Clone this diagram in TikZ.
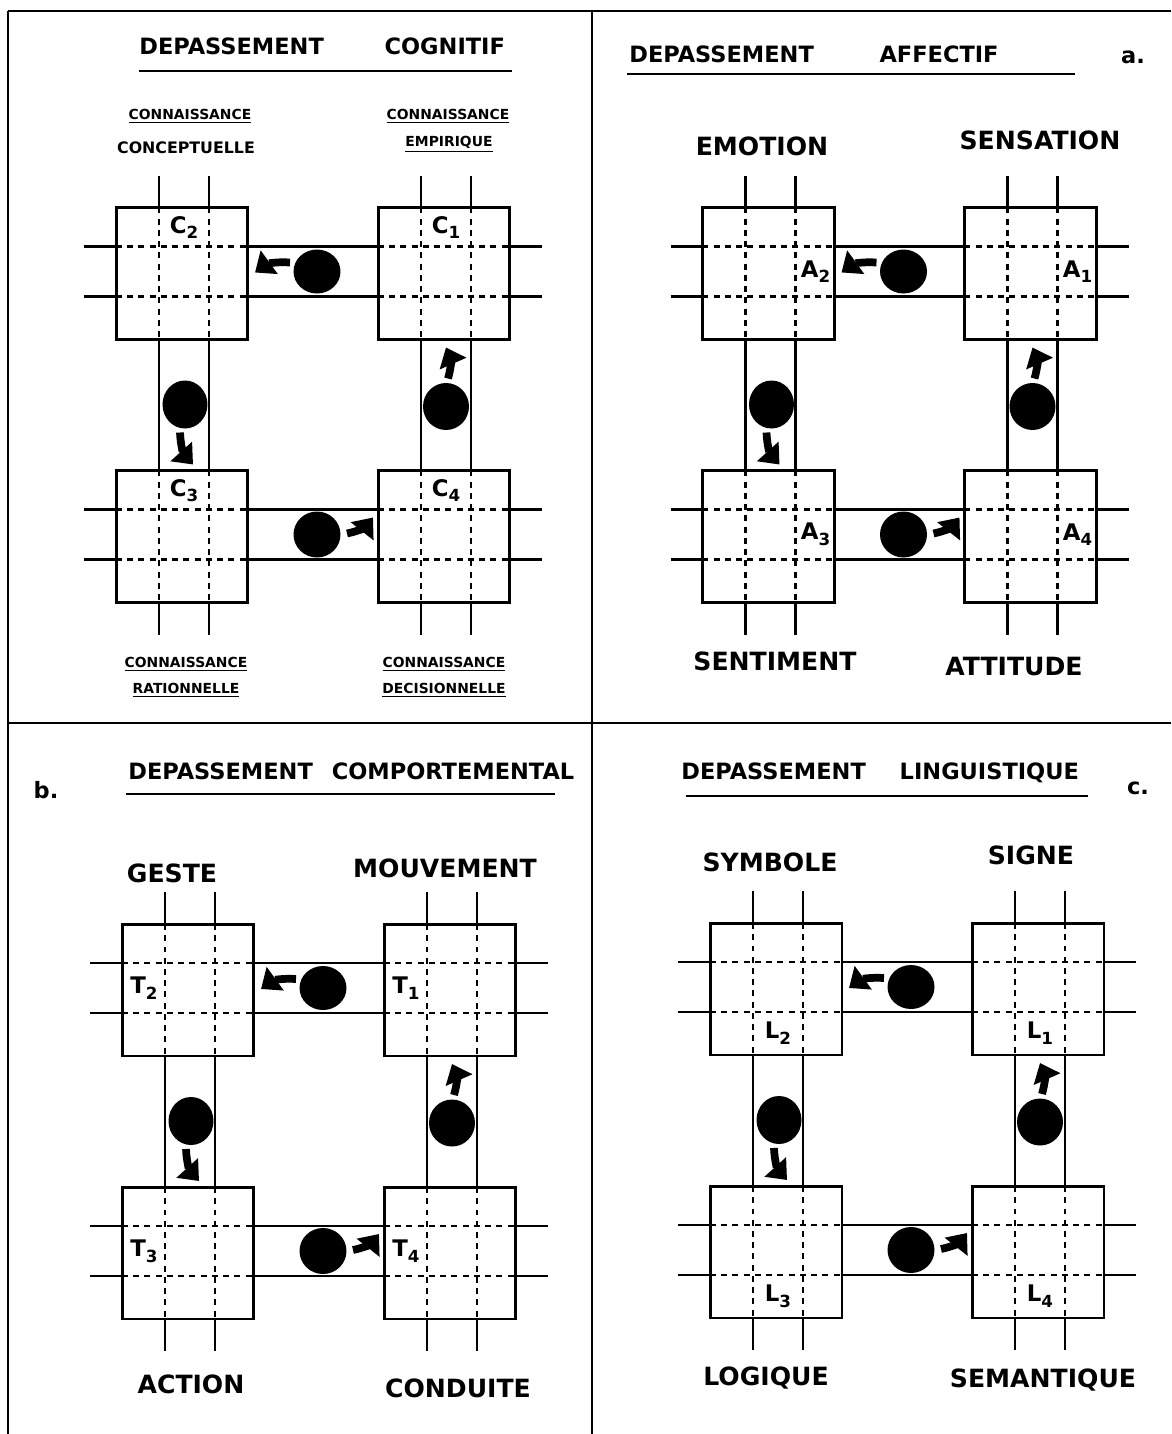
\documentclass[tikz,border=0pt]{standalone}
\usepackage{fontspec}
\setmainfont{DejaVu Sans}
\usetikzlibrary{arrows.meta}

\begin{document}
\begin{tikzpicture}[
    x=0.02cm, y=-0.02cm,
    frame/.style={line width=1.4pt},
    wire/.style={line width=1.3pt},
    gridline/.style={line width=1.4pt, dash pattern=on 3.4pt off 3pt},
    cell/.style={draw, fill=white, line width=1.7pt, minimum width=2.64cm, minimum height=2.64cm, inner sep=0pt},
    ball/.style={fill=black},
    flow/.style={line width=4.4pt, -{Triangle[length=10pt, width=16pt]}},
    title/.style={font=\fontsize{12.8}{14}\selectfont\bfseries, inner sep=0pt},
    pole/.style={font=\fontsize{14.3}{16}\selectfont\bfseries, inner sep=0pt},
    knowl/.style={font=\fontsize{7.9}{9}\selectfont\bfseries, inner sep=0pt},
    boxlab/.style={font=\fontsize{13}{14}\selectfont\bfseries, inner sep=0pt}
]
    \useasboundingbox (0,0) rectangle (1171,1434);
    \fill[white] (0,0) rectangle (1171,1434);

    % --- Frame ---
    \draw[frame] (8,11) -- (1171,11);
    \draw[frame] (8,11) -- (8,1434);
    \draw[frame] (592,11) -- (592,1434);
    \draw[frame] (8,723) -- (1171,723);

    % --- The four squares of each panel ---
    \foreach \px/\py/\k/\L/\lx/\ly in {182/273.5/c/C/2/-46, 768.5/273.5/a/A/47/-2, 188/990/t/T/-44/-2, 776/989/l/L/2/44}{
        \begin{scope}[shift={(\px,\py)}]
            % solid wires, behind the boxes
            \foreach \w in {-23,27,239,289}
                \draw[wire] (\w,-98) -- (\w,361);
            \foreach \w in {-27,23,236,286}
                \draw[wire] (-98,\w) -- (360,\w);

            % boxes with their dashed grid
            \foreach \b/\bx/\by in {2/0/0, 1/262/0, 3/0/263, 4/262/263}{
                \node[cell] (\k\b) at (\bx,\by) {};
                \draw[gridline] ({\bx-23},{\by-66}) -- ({\bx-23},{\by+66});
                \draw[gridline] ({\bx+27},{\by-66}) -- ({\bx+27},{\by+66});
                \draw[gridline] ({\bx-66},{\by-27}) -- ({\bx+66},{\by-27});
                \draw[gridline] ({\bx-66},{\by+23}) -- ({\bx+66},{\by+23});
                \node[boxlab] (\k\b-tag) at ({\bx+\lx},{\by+\ly}) {\L\raisebox{-0.45ex}{\fontsize{9.5}{9.5}\selectfont\b}};
            }

            % balls and arrows
            \fill[ball] (135,-2) ellipse [x radius=0.47cm, y radius=0.44cm];
            \draw[flow] (108,-11) to[bend right=20] (73,-1);
            \fill[ball] (3,131) ellipse [x radius=0.45cm, y radius=0.48cm];
            \draw[flow] (-2,159) to[bend right=20] (11,191);
            \fill[ball] (135,261) ellipse [x radius=0.47cm, y radius=0.46cm];
            \draw[flow] (165,260) to[bend right=20] (191,244);
            \fill[ball] (264,133) ellipse [x radius=0.46cm, y radius=0.47cm];
            \draw[flow] (266,105) to[bend right=20] (264,74);
        \end{scope}
    }

    % --- Cognitif ---
    \node[title, anchor=west] (ttlcog) at (139,46) {DEPASSEMENT\hspace{34.6pt}COGNITIF};
    \draw[frame] (139,71) -- (512,71);
    \node[knowl] (ck1) at (190,116) {\underline{CONNAISSANCE}};
    \node[knowl, font=\fontsize{9}{10}\selectfont\bfseries] (concept) at (186,148) {CONCEPTUELLE};
    \node[knowl] (ck2) at (448,116) {\underline{CONNAISSANCE}};
    \node[knowl] (empir) at (449,144) {\underline{EMPIRIQUE}};
    \node[knowl] (ck3) at (186,664) {\underline{CONNAISSANCE}};
    \node[knowl] (ration) at (186,690) {\underline{RATIONNELLE}};
    \node[knowl] (ck4) at (444,664) {\underline{CONNAISSANCE}};
    \node[knowl] (decis) at (444,690) {\underline{DECISIONNELLE}};

    % --- Affectif ---
    \node[title, anchor=west] (ttlaff) at (629,54) {DEPASSEMENT\hspace{37.4pt}AFFECTIF};
    \node[title] (tagA) at (1133,57) {a.};
    \draw[frame] (627,74) -- (1075,74);
    \node[pole] (emotion) at (762,146) {EMOTION};
    \node[pole] (sensation) at (1040,140) {SENSATION};
    \node[pole] (sentiment) at (775,661) {SENTIMENT};
    \node[pole] (attitude) at (1014,667) {ATTITUDE};

    % --- Comportemental ---
    \node[title] (tagB) at (46,790) {b.};
    \node[title, anchor=west] (ttlcomp) at (128,771) {DEPASSEMENT\hspace{10.8pt}COMPORTEMENTAL};
    \draw[frame] (126,794) -- (555,794);
    \node[pole] (geste) at (172,873) {GESTE};
    \node[pole] (mouvement) at (445,868) {MOUVEMENT};
    \node[pole] (action) at (191,1384) {ACTION};
    \node[pole] (conduite) at (458,1388) {CONDUITE};

    % --- Linguistique ---
    \node[title, anchor=west] (ttlling) at (681,773) {DEPASSEMENT\hspace{19.3pt}LINGUISTIQUE};
    \node[title] (tagC) at (1138,788) {c.};
    \draw[frame] (686,796) -- (1088,796);
    \node[pole] (symbole) at (770,862) {SYMBOLE};
    \node[pole] (signe) at (1031,855) {SIGNE};
    \node[pole] (logique) at (766,1378) {LOGIQUE};
    \node[pole] (semantique) at (1043,1380) {SEMANTIQUE};

\end{tikzpicture}
\end{document}
